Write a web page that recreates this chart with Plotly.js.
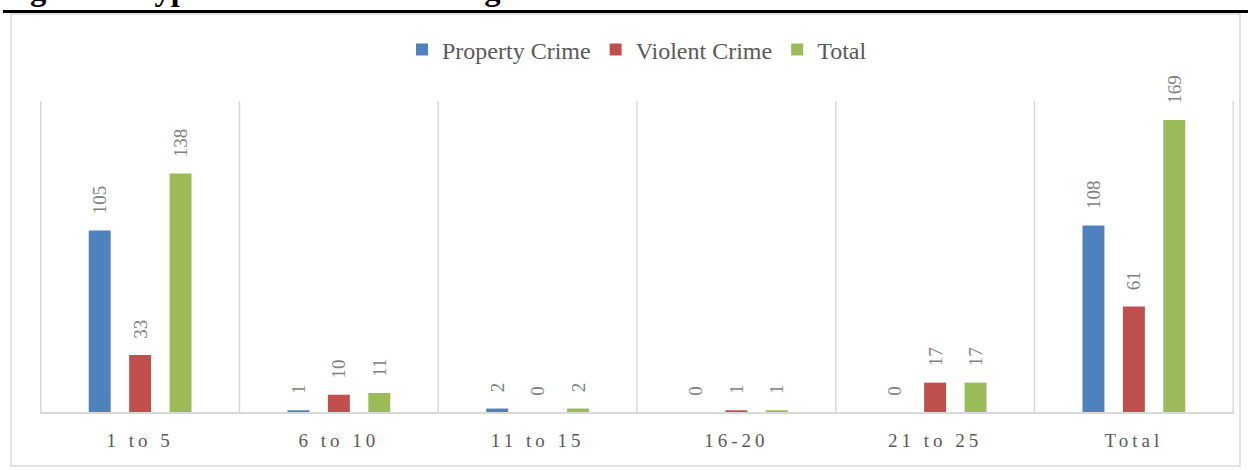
<!DOCTYPE html>
<html>
<head>
<meta charset="utf-8">
<script src="https://cdn.plot.ly/plotly-3.0.1.min.js"></script>
<style>
html,body{margin:0;padding:0;background:#fff;}
#chart{width:1248px;height:470px;}
.xtick text{letter-spacing:4px;}
</style>
</head>
<body>
<div id="chart"></div>
<script>
const categories = ['1 to 5', '6 to 10', '11 to 15', '16-20', '21 to 25', 'Total'];
const propertyCrime = [105, 1, 2, 0, 0, 108];
const violentCrime = [33, 10, 0, 1, 17, 61];
const totalCrime = [138, 11, 2, 1, 17, 169];
const seriesNames = ['Property Crime', 'Violent Crime', 'Total'];
const seriesColors = ['#4F81BD', '#C0504D', '#9BBB59'];
const titleText = 'Figure 1: Type of Crime and Average Duration of Sentences';

const serif = 'Liberation Serif, Times New Roman, serif';
const seriesData = [propertyCrime, violentCrime, totalCrime];

const traces = seriesData.map((vals, i) => ({
  type: 'bar',
  name: seriesNames[i],
  x: categories,
  y: vals,
  marker: {color: seriesColors[i]},
  text: vals.map(String),
  texttemplate: '\u2007\u2009%{text}',
  textposition: 'outside',
  textangle: -90,
  constraintext: 'none',
  cliponaxis: false,
  textfont: {family: serif, size: 19, color: '#7f7f7f'},
  hoverinfo: 'none'
}));

const shapes = [];
for (let i = 0; i <= categories.length; i++) {
  shapes.push({type: 'line', xref: 'x', yref: 'paper', x0: i - 0.5, x1: i - 0.5, y0: 0, y1: 1,
    line: {color: '#d9d9d9', width: 1.5}});
}
// outer chart border
shapes.push({type: 'rect', xref: 'paper', yref: 'paper', x0: -0.0243, x1: 1.005, y0: -0.1736, y1: 1.2797,
  line: {color: '#d9d9d9', width: 1.5}, fillcolor: 'rgba(0,0,0,0)'});
// black rule under heading
shapes.push({type: 'line', xref: 'paper', yref: 'paper', x0: -0.031, x1: 1.02, y0: 1.2878, y1: 1.2878,
  line: {color: '#000000', width: 3}});

const layout = {
  width: 1248,
  height: 470,
  margin: {l: 40, r: 14, t: 101, b: 58},
  paper_bgcolor: '#ffffff',
  plot_bgcolor: '#ffffff',
  barmode: 'group',
  bargap: 0.39,
  bargroupgap: 0.457,
  showlegend: true,
  legend: {orientation: 'h', x: 0.5, xanchor: 'center', y: 1.164, yanchor: 'middle',
    font: {family: serif, size: 24, color: '#595959'}, itemclick: false},
  xaxis: {
    type: 'category',
    showgrid: false,
    showline: true,
    linecolor: '#d9d9d9',
    linewidth: 1.5,
    ticks: '',
    ticklabelstandoff: 11,
    tickfont: {family: serif, size: 19, color: '#595959'},
    fixedrange: true
  },
  yaxis: {
    range: [0, 180],
    showgrid: false,
    zeroline: false,
    showline: false,
    showticklabels: false,
    ticks: '',
    fixedrange: true
  },
  shapes: shapes,
  annotations: [{
    text: '<b>' + titleText + '</b>',
    xref: 'paper', yref: 'paper',
    x: -0.034, y: 1.3248,
    xanchor: 'left', yanchor: 'bottom',
    yshift: -9,
    showarrow: false,
    font: {family: serif, size: 32.5, color: '#000000'}
  }]
};

Plotly.newPlot('chart', traces, layout, {displayModeBar: false, staticPlot: true});
</script>
</body>
</html>
